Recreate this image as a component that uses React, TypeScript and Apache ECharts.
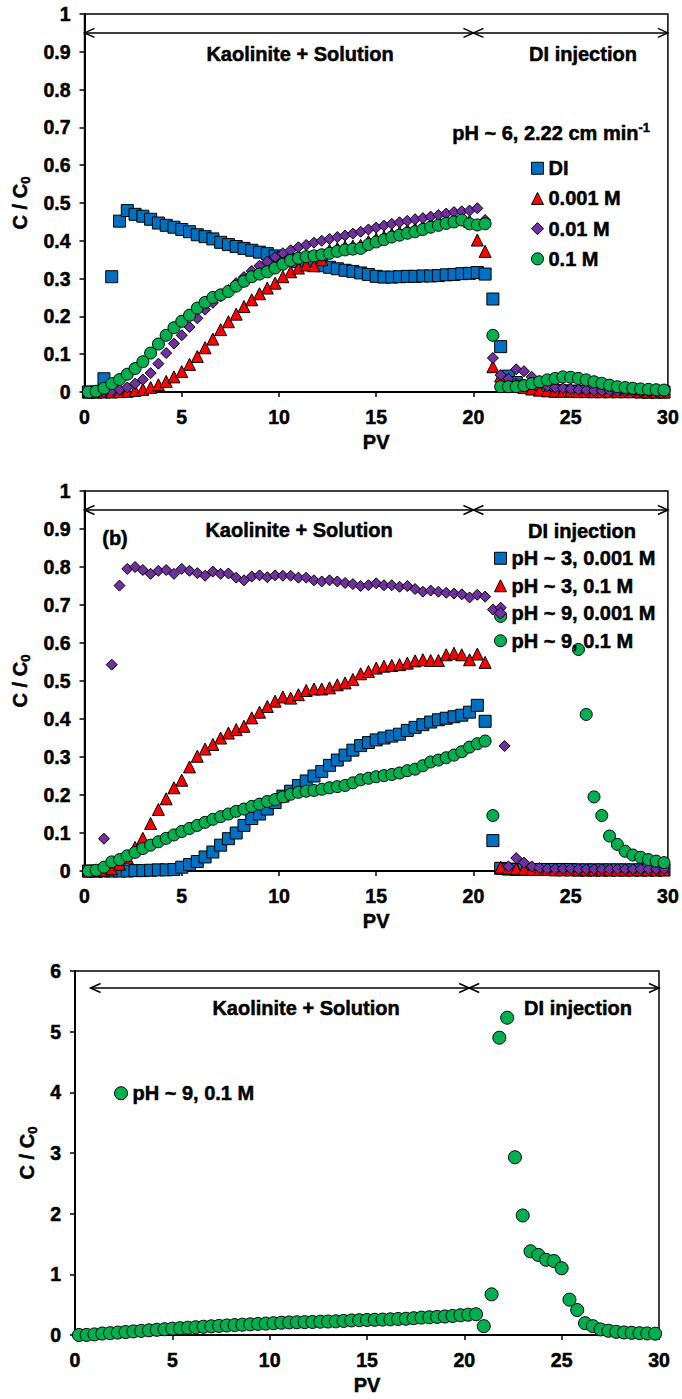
import React, { useEffect, useRef } from 'react';
import * as echarts from 'echarts';

// ---------- data ----------
const PV = [
  0.2, 0.6, 1.0, 1.4, 1.8, 2.2, 2.6, 3.0, 3.4, 3.8,
  4.2, 4.6, 5.0, 5.4, 5.8, 6.2, 6.6, 7.0, 7.4, 7.8,
  8.2, 8.6, 9.0, 9.4, 9.8, 10.2, 10.6, 11.0, 11.4, 11.8,
  12.2, 12.6, 13.0, 13.4, 13.8, 14.2, 14.6, 15.0, 15.4, 15.8,
  16.2, 16.6, 17.0, 17.4, 17.8, 18.2, 18.6, 19.0, 19.4, 19.8,
  20.2, 20.6, 21.0, 21.4, 21.8, 22.2, 22.6, 23.0, 23.4, 23.8,
  24.2, 24.6, 25.0, 25.4, 25.8, 26.2, 26.6, 27.0, 27.4, 27.8,
  28.2, 28.6, 29.0, 29.4, 29.8,
];

// Panel (a): pH ~ 6
const A_DI = [
  0, 0, 0.035, 0.305, 0.452, 0.48, 0.47, 0.465, 0.457, 0.447,
  0.441, 0.436, 0.43, 0.424, 0.416, 0.411, 0.405, 0.396, 0.39, 0.385,
  0.38, 0.375, 0.37, 0.366, 0.36, 0.355, 0.35, 0.345, 0.34, 0.338,
  0.334, 0.33, 0.326, 0.322, 0.319, 0.315, 0.311, 0.306, 0.304, 0.304,
  0.305, 0.306, 0.306, 0.307, 0.307, 0.308, 0.31, 0.311, 0.313, 0.314,
  0.316, 0.312, 0.246, 0.12, 0.042, 0.025, 0.015, 0.01, 0.006, 0.004,
  0.003, 0.003, 0.002, 0.002, 0.002, 0.001, 0.001, 0.001, 0.001, 0.001,
  0.001, 0, 0, 0, 0,
];
const A_M0001 = [
  0, 0, 0, 0, 0.001, 0.002, 0.004, 0.007, 0.012, 0.019,
  0.028, 0.04, 0.054, 0.073, 0.094, 0.117, 0.14, 0.165, 0.186, 0.206,
  0.226, 0.244, 0.26, 0.275, 0.288, 0.305, 0.318, 0.328, 0.336, 0.334,
  0.35, 0.375, 0.38, 0.384, 0.386, 0.388, 0.398, 0.405, 0.411, 0.418,
  0.423, 0.428, 0.432, 0.438, 0.444, 0.449, 0.454, 0.458, 0.462, 0.452,
  0.402, 0.372, 0.067, 0.042, 0.035, 0.02, 0.012, 0.008, 0.005, 0.003,
  0.002, 0.002, 0.002, 0.001, 0.001, 0.001, 0.001, 0.001, 0.001, 0.001,
  0.001, 0.001, 0, 0, 0,
];
const A_M001 = [
  0, 0, 0, 0.002, 0.006, 0.012, 0.022, 0.033, 0.05, 0.075,
  0.103, 0.128, 0.15, 0.172, 0.195, 0.218, 0.236, 0.253, 0.27, 0.288,
  0.304, 0.32, 0.334, 0.345, 0.357, 0.367, 0.375, 0.383, 0.389, 0.395,
  0.4, 0.405, 0.41, 0.414, 0.419, 0.424, 0.43, 0.435, 0.44, 0.445,
  0.449, 0.453, 0.457, 0.46, 0.464, 0.468, 0.472, 0.476, 0.478, 0.48,
  0.486, 0.455, 0.09, 0.045, 0.035, 0.06, 0.055, 0.04, 0.025, 0.015,
  0.012, 0.01, 0.008, 0.006, 0.005, 0.004, 0.003, 0.003, 0.002, 0.002,
  0.002, 0.001, 0.001, 0.001, 0.001,
];
const A_M01 = [
  0, 0.002, 0.01, 0.022, 0.033, 0.047, 0.062, 0.08, 0.103, 0.127,
  0.15, 0.17, 0.187, 0.203, 0.222, 0.237, 0.25, 0.257, 0.266, 0.28,
  0.293, 0.305, 0.312, 0.318, 0.328, 0.338, 0.348, 0.354, 0.358, 0.36,
  0.363, 0.367, 0.372, 0.376, 0.378, 0.38, 0.39, 0.397, 0.403, 0.41,
  0.415, 0.42, 0.424, 0.43, 0.436, 0.441, 0.446, 0.45, 0.455, 0.445,
  0.442, 0.445, 0.15, 0.014, 0.014, 0.014, 0.017, 0.022, 0.027, 0.032,
  0.036, 0.04, 0.039, 0.036, 0.032, 0.027, 0.023, 0.018, 0.014, 0.012,
  0.01, 0.008, 0.007, 0.006, 0.005,
];

// Panel (b)
const B_PH3_LOW = [
  0, 0, 0, 0, 0, 0, 0.001, 0.001, 0.002, 0.003,
  0.003, 0.004, 0.01, 0.017, 0.025, 0.037, 0.05, 0.068, 0.085, 0.1,
  0.12, 0.138, 0.15, 0.163, 0.18, 0.197, 0.21, 0.225, 0.237, 0.25,
  0.262, 0.278, 0.292, 0.305, 0.318, 0.33, 0.338, 0.345, 0.35, 0.355,
  0.36, 0.37, 0.378, 0.385, 0.392, 0.398, 0.402, 0.406, 0.41, 0.418,
  0.436, 0.394, 0.08, 0.007, 0.005, 0.004, 0.004, 0.004, 0.004, 0.004,
  0.004, 0.004, 0.004, 0.003, 0.003, 0.003, 0.003, 0.003, 0.003, 0.003,
  0.003, 0.003, 0.003, 0.003, 0.003,
];
const B_PH3_HIGH = [
  0, 0, 0.002, 0.006, 0.018, 0.035, 0.062, 0.086, 0.125, 0.162,
  0.19, 0.219, 0.239, 0.274, 0.302, 0.321, 0.333, 0.35, 0.363, 0.372,
  0.381, 0.403, 0.418, 0.433, 0.447, 0.458, 0.455, 0.464, 0.475, 0.479,
  0.479, 0.482, 0.49, 0.495, 0.504, 0.519, 0.525, 0.534, 0.539, 0.541,
  0.543, 0.547, 0.553, 0.556, 0.554, 0.554, 0.569, 0.573, 0.569, 0.556,
  0.571, 0.549, null, 0.01, 0.008, 0.006, 0.005, 0.004, 0.004, 0.004,
  0.003, 0.003, 0.003, 0.003, 0.003, 0.003, 0.003, 0.003, 0.003, 0.003,
  0.003, 0.003, 0.003, 0.003, 0.003,
];
const B_PH9_LOW = [
  0, 0, 0.085, 0.543, 0.751, 0.795, 0.8, 0.792, 0.782, 0.79,
  0.792, 0.782, 0.795, 0.79, 0.784, 0.777, 0.788, 0.782, 0.783, 0.772,
  0.765, 0.775, 0.778, 0.773, 0.778, 0.777, 0.777, 0.772, 0.772, 0.765,
  0.762, 0.765, 0.762, 0.758, 0.755, 0.75, 0.752, 0.757, 0.752, 0.752,
  0.748, 0.75, 0.742, 0.735, 0.738, 0.735, 0.732, 0.73, 0.728, 0.72,
  0.727, 0.722, 0.688, 0.693, 0.012, 0.034, 0.022, 0.012, 0.008, 0.006,
  0.006, 0.006, 0.006, 0.005, 0.005, 0.005, 0.005, 0.005, 0.005, 0.005,
  0.005, 0.005, 0.005, 0.005, 0.005,
];
const B_PH9_LOW_EXTRA_PV = [21.6];
const B_PH9_LOW_EXTRA = [0.329];
// pH ~ 9, 0.1 M (shown in panels b and c)
const PH9_HIGH = [
  0, 0.002, 0.01, 0.024, 0.03, 0.04, 0.049, 0.059, 0.068, 0.077,
  0.086, 0.095, 0.104, 0.112, 0.12, 0.128, 0.136, 0.143, 0.15, 0.157,
  0.163, 0.17, 0.176, 0.183, 0.188, 0.195, 0.202, 0.207, 0.21, 0.212,
  0.215, 0.219, 0.222, 0.225, 0.232, 0.24, 0.244, 0.248, 0.251, 0.254,
  0.258, 0.264, 0.268, 0.277, 0.287, 0.292, 0.298, 0.305, 0.314, 0.326,
  0.335, 0.342, 0.146, 0.67, 4.9, 5.23, 2.93, 1.97, 1.38, 1.32,
  1.24, 1.22, 1.1, 0.583, 0.412, 0.195, 0.146, 0.092, 0.07, 0.052,
  0.042, 0.036, 0.03, 0.026, 0.022,
];

const X_TICKS = [0, 5, 10, 15, 20, 25, 30];
const Y_TICKS_AB = [0, 0.1, 0.2, 0.3, 0.4, 0.5, 0.6, 0.7, 0.8, 0.9, 1];
const Y_TICKS_C = [0, 1, 2, 3, 4, 5, 6];

// ---------- styling ----------
const FONT = 'Arial, "Liberation Sans", Helvetica, sans-serif';
const BLUE = '#0070C0';
const RED = '#FF0000';
const PURPLE = '#7030A0';
const GREEN = '#00B050';
const FS = 19.5;
const HEAVY = { textBorderColor: '#000', textBorderWidth: 0.5 };

const zip = (xs: number[], ys: (number | null)[]) =>
  xs.map((x, i) => [x, ys[i]]).filter((p) => p[1] !== null && p[1] !== undefined);

const scatter = (name: string, data: any[], symbol: string, size: number, color: string, gi: number) => ({
  type: 'scatter',
  name,
  data,
  symbol,
  symbolSize: size,
  xAxisIndex: gi,
  yAxisIndex: gi,
  clip: true,
  silent: true,
  itemStyle: { color, borderColor: '#000', borderWidth: 1, opacity: 1 },
  emphasis: { disabled: true },
});

const GRIDS = [
  { left: 82, right: 12, top: 14, height: 378 },
  { left: 80, right: 12, top: 491, height: 380 },
  { left: 75, right: 23, top: 971, height: 364 },
];

const labelStyle = { fontSize: FS, fontWeight: 'bold', color: '#000', fontFamily: FONT, ...HEAVY };

const makeX = (gi: number) => ({
  type: 'value',
  gridIndex: gi,
  min: X_TICKS[0],
  max: X_TICKS[X_TICKS.length - 1],
  interval: X_TICKS[1] - X_TICKS[0],
  name: 'PV',
  nameLocation: 'middle',
  nameGap: 40,
  nameTextStyle: { ...labelStyle, fontSize: 20 },
  axisLine: { show: true, onZero: false, lineStyle: { color: '#000', width: 2 } },
  axisTick: { show: true, inside: false, length: 5, lineStyle: { color: '#000', width: 1.5 } },
  axisLabel: { ...labelStyle, margin: 15, showMinLabel: true, showMaxLabel: true, hideOverlap: false },
  splitLine: { show: false },
});

const makeY = (gi: number, ticks: number[], gap: number) => ({
  type: 'value',
  gridIndex: gi,
  min: ticks[0],
  max: ticks[ticks.length - 1],
  interval: ticks[1] - ticks[0],
  name: 'C / C{sub|0}',
  nameLocation: 'middle',
  nameGap: gap,
  nameTextStyle: {
    ...labelStyle,
    fontSize: 20,
    lineHeight: 24,
    rich: {
      sub: { fontSize: 13, fontWeight: 'bold', fontFamily: FONT, color: '#000', lineHeight: 12, verticalAlign: 'bottom', ...HEAVY },
    },
  },
  axisLine: { show: true, onZero: false, lineStyle: { color: '#000', width: 2 } },
  axisTick: { show: true, inside: false, length: 5, lineStyle: { color: '#000', width: 1.5 } },
  axisLabel: { ...labelStyle, margin: 14, showMinLabel: true, showMaxLabel: true, hideOverlap: false },
  splitLine: { show: false },
});

const legendText = { fontSize: 20, fontWeight: 'bold', color: '#000', fontFamily: FONT, lineHeight: 18, ...HEAVY };

export default function App() {
  const ref = useRef<HTMLDivElement>(null);

  useEffect(() => {
    document.body.style.margin = '0';
    if (!ref.current) return;
    const chart = echarts.init(ref.current, null, { renderer: 'svg' });

    const option: any = {
      animation: false,
      backgroundColor: '#fff',
      grid: GRIDS.map((g) => ({ ...g, show: true, borderColor: '#000', borderWidth: 1.5, backgroundColor: 'transparent', containLabel: false })),
      xAxis: [makeX(0), makeX(1), makeX(2)],
      yAxis: [makeY(0, Y_TICKS_AB, 45), makeY(1, Y_TICKS_AB, 48), makeY(2, Y_TICKS_C, 31)],
      legend: [
        {
          left: 526, top: 153, padding: 5, orient: 'vertical', itemWidth: 12, itemHeight: 12, itemGap: 9.7,
          selectedMode: false, textStyle: legendText,
          itemStyle: { borderColor: '#000', borderWidth: 1 },
          data: [
            { name: 'DI', icon: 'rect' },
            { name: '0.001 M', icon: 'triangle' },
            { name: '0.01 M', icon: 'diamond' },
            { name: '0.1 M', icon: 'circle' },
          ],
        },
        {
          left: 489, top: 543, padding: 5, orient: 'vertical', itemWidth: 12, itemHeight: 12, itemGap: 7,
          selectedMode: false, textStyle: legendText,
          itemStyle: { borderColor: '#000', borderWidth: 1 },
          data: [
            { name: 'pH ~ 3, 0.001 M', icon: 'rect' },
            { name: 'pH ~ 3, 0.1 M', icon: 'triangle' },
            { name: 'pH ~ 9, 0.001 M', icon: 'diamond' },
            { name: 'pH ~ 9, 0.1 M', icon: 'circle' },
          ],
        },
        {
          left: 109, top: 1078, padding: 5, orient: 'vertical', itemWidth: 13, itemHeight: 13, itemGap: 7,
          selectedMode: false, textStyle: legendText,
          itemStyle: { borderColor: '#000', borderWidth: 1 },
          data: [{ name: 'pH ~ 9, 0.1 M', icon: 'circle' }],
        },
      ],
      series: [
        scatter('DI', zip(PV, A_DI), 'rect', 12, BLUE, 0),
        scatter('0.001 M', zip(PV, A_M0001), 'triangle', 12, RED, 0),
        scatter('0.01 M', zip(PV, A_M001), 'diamond', 11, PURPLE, 0),
        scatter('0.1 M', zip(PV, A_M01), 'circle', 12, GREEN, 0),

        scatter('pH ~ 3, 0.001 M', zip(PV, B_PH3_LOW), 'rect', 12, BLUE, 1),
        scatter('pH ~ 3, 0.1 M', zip(PV, B_PH3_HIGH), 'triangle', 12, RED, 1),
        scatter('pH ~ 9, 0.001 M', zip(PV, B_PH9_LOW).concat(zip(B_PH9_LOW_EXTRA_PV, B_PH9_LOW_EXTRA)), 'diamond', 11, PURPLE, 1),
        scatter('pH ~ 9, 0.1 M', zip(PV, PH9_HIGH), 'circle', 12, GREEN, 1),

        scatter('pH ~ 9, 0.1 M', zip(PV, PH9_HIGH), 'circle', 13, GREEN, 2),
      ],
    };
    chart.setOption(option);

    const px = (gi: number, x: number, y: number) =>
      chart.convertToPixel({ gridIndex: gi } as any, [x, y]) as number[];

    const lineStyle = { stroke: '#000', lineWidth: 1.5, fill: 'none' };
    const arrow = (a: number[], b: number[]) => [
      { type: 'line', shape: { x1: a[0], y1: a[1], x2: b[0], y2: b[1] }, style: lineStyle, silent: true },
      { type: 'polyline', shape: { points: [[a[0] + 10, a[1] - 4.5], [a[0], a[1]], [a[0] + 10, a[1] + 4.5]] }, style: lineStyle, silent: true },
      { type: 'polyline', shape: { points: [[b[0] - 10, b[1] - 4.5], [b[0], b[1]], [b[0] - 10, b[1] + 4.5]] }, style: lineStyle, silent: true },
    ];
    const text = (x: number, y: number, t: string, align = 'center', extra: any = {}) => ({
      type: 'text', x, y, silent: true,
      style: {
        text: t, fontSize: 20, fontWeight: 'bold', fontFamily: FONT, fill: '#000',
        stroke: '#000', lineWidth: 0.5,
        align, verticalAlign: 'middle', ...extra,
      },
    });

    const elements: any[] = [
      ...arrow(px(0, 0, 0.95), px(0, 20, 0.95)),
      ...arrow(px(0, 20, 0.95), px(0, 30, 0.95)),
      ...arrow(px(1, 0, 0.95), px(1, 20, 0.95)),
      ...arrow(px(1, 20, 0.95), px(1, 30, 0.95)),
      ...arrow(px(2, 0.8, 5.72), px(2, 20.25, 5.72)),
      ...arrow(px(2, 20.25, 5.72), px(2, 30, 5.72)),
      text(300, 54, 'Kaolinite + Solution'),
      text(583, 54, 'DI injection'),
      text(650, 133, 'pH ~ 6, 2.22 cm min{sup|-1}', 'right', {
        rich: { sup: { fontSize: 13, fontWeight: 'bold', fontFamily: FONT, fill: '#000', stroke: '#000', lineWidth: 0.4, lineHeight: 12, verticalAlign: 'top' } },
        lineHeight: 24,
      }),
      text(299, 530, 'Kaolinite + Solution'),
      text(582, 531, 'DI injection'),
      text(115, 538, '(b)'),
      text(306, 1008, 'Kaolinite + Solution'),
      text(578, 1008, 'DI injection'),
    ];
    chart.setOption({ graphic: { elements } });

    return () => chart.dispose();
  }, []);

  return <div ref={ref} style={{ width: 682, height: 1399 }} />;
}
